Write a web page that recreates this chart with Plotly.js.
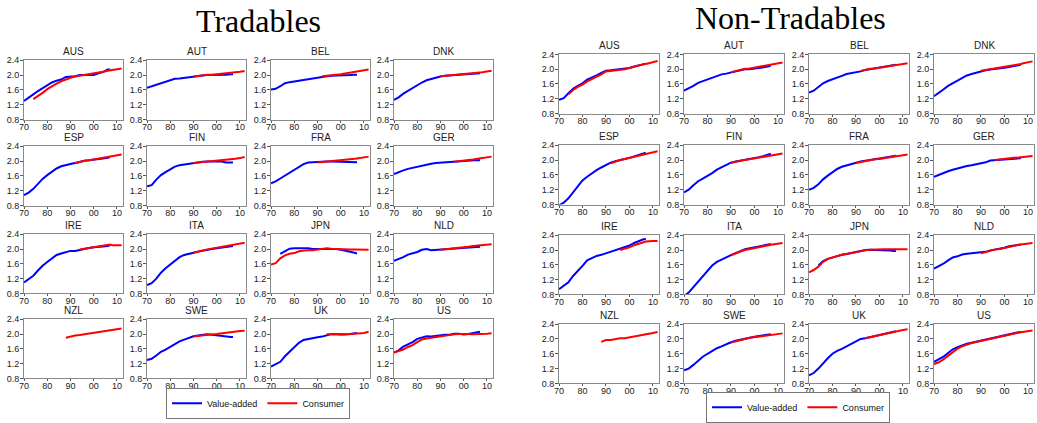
<!DOCTYPE html>
<html>
<head>
<meta charset="utf-8">
<script src="https://cdn.plot.ly/plotly-3.0.1.min.js"></script>
<style>html,body{margin:0;padding:0;background:#fff;}#chart{width:1037px;height:423px;}</style>
</head>
<body>
<div id="chart"></div>
<script>
const countries = ['AUS','AUT','BEL','DNK','ESP','FIN','FRA','GER','IRE','ITA','JPN','NLD','NZL','SWE','UK','US'];
const panelTitles = ['Tradables','Non-Tradables'];
const seriesNames = ['Value-added','Consumer'];
const xTickVals = [1970,1980,1990,2000,2010];
const xTickText = ['70','80','90','00','10'];
const yTickVals = [0.8,1.2,1.6,2.0,2.4];
const yTickText = ['0.8','1.2','1.6','2.0','2.4'];
// value-added years (series end 2007); consumer years (series end 2012, arrays are aligned to the tail)
const yearsVA = [1970,1972,1974,1976,1978,1980,1982,1984,1986,1988,1990,1992,1994,1996,1998,2000,2002,2004,2006,2007];
const yearsCons = [1970,1972,1974,1976,1978,1980,1982,1984,1986,1988,1990,1992,1994,1996,1998,2000,2002,2004,2006,2007,2008,2010,2012];

const tradVA = [
 [1.30,1.38,1.48,1.57,1.65,1.72,1.80,1.85,1.88,1.95,1.95,1.97,2.00,2.00,2.02,2.00,2.05,2.08,2.15,2.15],
 [1.66,1.70,1.74,1.78,1.83,1.87,1.90,1.91,1.93,1.94,1.96,1.98,1.99,2.00,2.00,1.99,2.01,2.01,2.02,2.02],
 [1.61,1.63,1.70,1.78,1.81,1.83,1.85,1.89,1.91,1.93,1.94,1.96,1.97,1.98,1.98,1.98,1.98,2.00,2.01,2.01],
 [1.33,1.40,1.50,1.58,1.65,1.72,1.80,1.86,1.90,1.93,1.96,1.98,1.99,2.00,2.01,2.02,2.03,2.03,2.05,2.05],
 [1.08,1.15,1.25,1.40,1.52,1.62,1.72,1.80,1.86,1.90,1.92,1.95,1.99,2.01,2.02,2.03,2.05,2.07,2.09,2.10],
 [1.32,1.35,1.50,1.62,1.70,1.77,1.85,1.89,1.91,1.94,1.96,1.96,1.98,1.99,1.99,2.00,1.99,1.96,1.95,1.96],
 [1.40,1.45,1.53,1.61,1.68,1.76,1.85,1.92,1.96,1.97,1.99,1.99,1.99,1.99,1.99,1.98,1.98,1.97,1.97,1.97],
 [1.65,1.71,1.75,1.79,1.82,1.85,1.89,1.91,1.93,1.95,1.96,1.97,1.98,1.99,2.00,2.01,2.02,2.03,2.03,2.02],
 [1.10,1.18,1.28,1.42,1.55,1.65,1.75,1.84,1.88,1.92,1.95,1.95,1.98,2.00,2.03,2.05,2.07,2.07,2.08,2.10],
 [1.03,1.08,1.20,1.36,1.48,1.58,1.70,1.78,1.84,1.88,1.90,1.93,1.96,1.98,2.00,2.02,2.04,2.06,2.08,2.08],
 [null,null,1.87,1.95,2.01,2.02,2.02,2.04,2.02,2.00,2.00,2.02,2.02,2.00,2.00,1.98,1.96,1.93,1.90,1.88],
 [1.68,1.72,1.78,1.85,1.88,1.92,1.98,2.00,1.97,1.98,1.98,1.98,1.99,2.00,2.01,2.02,2.04,2.05,2.06,2.06],
 [],
 [1.30,1.33,1.42,1.52,1.58,1.66,1.74,1.80,1.85,1.90,1.94,1.96,1.98,1.99,1.98,1.96,1.95,1.93,1.92,1.92],
 [1.12,1.18,1.25,1.40,1.52,1.63,1.76,1.84,1.87,1.88,1.91,1.93,1.97,2.00,1.99,1.98,1.99,2.00,2.02,2.03],
 [1.50,1.56,1.66,1.72,1.78,1.87,1.91,1.94,1.93,1.95,1.97,1.98,1.98,2.01,2.01,1.99,2.00,2.02,2.05,2.06]
];
const tradCons = [
 [1.35,1.43,1.52,1.62,1.70,1.77,1.83,1.89,1.93,1.96,1.98,2.00,2.01,2.03,2.06,2.09,2.12,2.13,2.14,2.16,2.18],
 [1.96,1.98,2.00,2.01,2.01,2.02,2.03,2.04,2.05,2.06,2.07,2.09,2.11],
 [1.97,1.99,2.00,2.01,2.02,2.04,2.05,2.07,2.08,2.10,2.12,2.15],
 [1.97,1.98,1.99,2.00,2.01,2.02,2.03,2.04,2.06,2.07,2.08,2.10,2.12],
 [1.94,1.98,2.01,2.02,2.04,2.06,2.08,2.11,2.12,2.13,2.15,2.18],
 [1.95,1.96,1.99,2.00,2.01,2.02,2.03,2.03,2.04,2.05,2.06,2.08,2.11],
 [1.96,1.97,1.98,1.99,2.00,2.01,2.02,2.04,2.06,2.07,2.08,2.10,2.12],
 [1.98,1.99,2.00,2.02,2.04,2.06,2.07,2.08,2.10,2.12],
 [1.99,2.01,2.03,2.05,2.07,2.09,2.10,2.12,2.10,2.09,2.10],
 [1.90,1.94,1.96,1.99,2.01,2.03,2.05,2.07,2.09,2.10,2.11,2.13,2.17],
 [1.58,1.62,1.75,1.83,1.87,1.89,1.94,1.96,1.97,1.97,1.99,2.01,2.02,2.01,2.00,2.00,1.99,1.99,1.99,1.99,1.99,1.98,1.98],
 [1.98,1.99,2.00,2.01,2.02,2.04,2.06,2.08,2.09,2.10,2.11,2.12,2.13],
 [1.90,1.94,1.96,1.97,1.99,2.00,2.01,2.03,2.05,2.07,2.08,2.10,2.13,2.15],
 [1.93,1.95,1.97,1.99,1.99,2.00,2.02,2.03,2.04,2.05,2.06,2.08,2.09],
 [1.99,2.00,2.00,1.98,1.99,1.99,2.00,2.00,2.01,2.03,2.06],
 [1.50,1.53,1.58,1.65,1.70,1.78,1.85,1.88,1.90,1.92,1.95,1.97,1.98,1.99,2.00,2.01,2.00,1.99,1.99,1.99,2.00,2.01,2.02]
];
const nonVA = [
 [1.17,1.22,1.35,1.47,1.55,1.62,1.72,1.77,1.83,1.90,1.96,1.97,1.98,2.00,2.01,2.03,2.07,2.10,2.13,2.15],
 [1.42,1.48,1.55,1.63,1.68,1.73,1.78,1.82,1.86,1.88,1.91,1.95,1.98,2.00,2.00,2.01,2.03,2.05,2.08,2.10],
 [1.37,1.42,1.52,1.62,1.68,1.72,1.76,1.82,1.87,1.89,1.91,1.94,1.98,2.00,2.02,2.04,2.06,2.08,2.11,2.12],
 [1.27,1.35,1.45,1.55,1.62,1.68,1.77,1.83,1.87,1.91,1.95,1.97,1.99,2.00,2.02,2.04,2.06,2.08,2.11,2.12],
 [0.78,0.85,0.97,1.12,1.30,1.45,1.55,1.65,1.73,1.80,1.87,1.93,1.97,2.01,2.03,2.06,2.10,2.14,2.18,2.20],
 [1.13,1.20,1.32,1.43,1.50,1.57,1.65,1.74,1.80,1.86,1.93,1.96,1.98,2.00,2.02,2.05,2.08,2.11,2.15,2.17],
 [1.20,1.25,1.35,1.48,1.58,1.67,1.76,1.82,1.86,1.90,1.93,1.96,1.98,2.01,2.02,2.04,2.06,2.08,2.11,2.12],
 [1.55,1.60,1.67,1.70,1.74,1.78,1.82,1.84,1.86,1.88,1.90,1.94,1.99,2.00,2.00,2.01,2.01,2.02,2.03,2.05],
 [0.94,1.04,1.13,1.30,1.43,1.57,1.72,1.78,1.84,1.87,1.91,1.95,1.98,2.02,2.06,2.12,2.19,2.25,2.29,2.30],
 [0.76,0.85,1.00,1.14,1.28,1.44,1.58,1.68,1.75,1.80,1.86,1.92,1.97,2.02,2.05,2.07,2.10,2.13,2.15,2.16],
 [null,null,1.58,1.70,1.76,1.80,1.84,1.87,1.89,1.92,1.95,1.97,2.00,2.01,2.01,2.01,2.00,1.99,1.97,1.97],
 [1.50,1.56,1.63,1.72,1.80,1.83,1.88,1.90,1.91,1.92,1.93,1.95,1.99,2.01,2.03,2.06,2.10,2.12,2.14,2.15],
 [],
 [1.15,1.20,1.30,1.42,1.52,1.60,1.68,1.75,1.80,1.86,1.91,1.95,1.98,2.02,2.04,2.06,2.08,2.10,2.12,2.13],
 [1.02,1.08,1.20,1.35,1.48,1.60,1.68,1.73,1.80,1.87,1.95,2.00,2.02,2.05,2.08,2.12,2.15,2.18,2.20,2.21],
 [1.38,1.45,1.52,1.62,1.72,1.78,1.83,1.87,1.90,1.93,1.96,1.99,2.01,2.04,2.06,2.09,2.12,2.15,2.18,2.19]
];
const nonCons = [
 [1.32,1.44,1.52,1.58,1.67,1.73,1.78,1.86,1.94,1.95,1.96,1.99,2.00,2.03,2.07,2.10,2.13,2.14,2.16,2.19,2.22],
 [1.92,1.95,1.99,2.01,2.02,2.04,2.06,2.08,2.11,2.12,2.14,2.16,2.18],
 [1.95,1.99,2.01,2.02,2.04,2.06,2.08,2.10,2.11,2.12,2.14,2.16],
 [1.96,1.98,2.00,2.01,2.03,2.05,2.07,2.10,2.13,2.14,2.16,2.19,2.21],
 [1.91,1.96,2.00,2.03,2.06,2.09,2.13,2.16,2.18,2.19,2.21,2.24],
 [1.93,1.96,1.98,2.00,2.02,2.04,2.06,2.09,2.11,2.12,2.14,2.16,2.18],
 [1.92,1.95,1.97,2.00,2.02,2.03,2.05,2.08,2.10,2.11,2.12,2.13,2.15],
 [2.00,2.02,2.03,2.05,2.06,2.07,2.08,2.09,2.10,2.11],
 [2.00,2.03,2.07,2.13,2.18,2.21,2.23,2.24,2.24,2.24],
 [1.86,1.92,1.96,2.00,2.03,2.05,2.08,2.11,2.13,2.14,2.15,2.17,2.19],
 [1.40,1.46,1.55,1.68,1.76,1.80,1.84,1.87,1.89,1.92,1.95,1.97,1.99,2.01,2.02,2.02,2.02,2.02,2.02,2.02,2.02,2.02,2.02],
 [1.91,1.95,1.99,2.01,2.03,2.06,2.10,2.12,2.14,2.15,2.16,2.17,2.19],
 [1.92,1.97,1.97,2.00,2.02,2.02,2.04,2.06,2.08,2.11,2.12,2.14,2.16,2.19],
 [1.90,1.94,1.97,2.00,2.03,2.05,2.07,2.09,2.11,2.12,2.13,2.14,2.15],
 [2.02,2.05,2.08,2.11,2.14,2.17,2.20,2.21,2.22,2.24,2.26],
 [1.32,1.37,1.45,1.55,1.65,1.74,1.80,1.85,1.89,1.92,1.95,1.98,2.01,2.04,2.06,2.09,2.12,2.15,2.17,2.18,2.19,2.21,2.23]
];

const W = 1037, H = 423;
const BLUE = '#0000ff', RED = '#ff0000';
const panels = [
  {va: tradVA, cons: tradCons, lefts: [24,147,271,394], w: 99, tops: [61,148,237,323], h: 60,
   titleX: 258, titleY: 21, legendX: 258, legendY: 408, legend: 'legend'},
  {va: nonVA, cons: nonCons, lefts: [559,684,809,934], w: 100, tops: [55,147,238,328], h: 60,
   titleX: 790, titleY: 18, legendX: 798, legendY: 412, legend: 'legend2'}
];

const traces = [];
const layout = {
  width: W, height: H, autosize: false,
  margin: {l:0, r:0, t:0, b:0},
  paper_bgcolor: '#fff', plot_bgcolor: '#fff',
  font: {family: 'Liberation Sans, Arial, sans-serif', size: 9, color: '#222'},
  annotations: [],
  showlegend: true
};

const fontTick = {family: 'Liberation Sans, Arial, sans-serif', size: 9, color: '#222'};

panels.forEach((p, pi) => {
  countries.forEach((c, ci) => {
    const idx = pi * 16 + ci + 1;
    const row = Math.floor(ci / 4), col = ci % 4;
    const x0 = p.lefts[col], x1 = x0 + p.w;
    const y0 = p.tops[row], y1 = y0 + p.h;
    const xa = 'xaxis' + (idx === 1 ? '' : idx), ya = 'yaxis' + (idx === 1 ? '' : idx);
    const xr = 'x' + (idx === 1 ? '' : idx), yr = 'y' + (idx === 1 ? '' : idx);
    layout[xa] = {
      domain: [x0 / W, x1 / W], anchor: yr, range: [1970, 2012.6],
      tickvals: xTickVals, ticktext: xTickText, ticks: 'outside', ticklen: 2, tickcolor: '#555',
      ticklabelstandoff: -3,
      showline: true, linecolor: '#8a8a8a', linewidth: 1, mirror: true,
      showgrid: false, zeroline: false, tickfont: fontTick, fixedrange: true
    };
    layout[ya] = {
      domain: [1 - y1 / H, 1 - y0 / H], anchor: xr, range: [0.8, 2.4],
      tickvals: yTickVals, ticktext: yTickText, ticks: 'outside', ticklen: 3, tickcolor: '#555',
      ticklabelstandoff: -1,
      showline: true, linecolor: '#8a8a8a', linewidth: 1, mirror: true,
      showgrid: false, zeroline: false, tickfont: fontTick, fixedrange: true
    };
    layout.annotations.push({
      text: c, xref: 'paper', yref: 'paper', x: (x0 + x1) / 2 / W, y: 1 - (y0 - 9) / H,
      xanchor: 'center', yanchor: 'middle', showarrow: false,
      font: {family: 'Liberation Sans, Arial, sans-serif', size: 10, color: '#222'}
    });
    const va = p.va[ci];
    const cons = p.cons[ci];
    const first = ci === 0;
    traces.push({
      type: 'scatter', mode: 'lines', name: seriesNames[0],
      x: yearsVA.slice(0, va.length), y: va, xaxis: xr, yaxis: yr,
      line: {color: BLUE, width: 2}, showlegend: first, legend: p.legend, hoverinfo: 'skip'
    });
    traces.push({
      type: 'scatter', mode: 'lines', name: seriesNames[1],
      x: yearsCons.slice(yearsCons.length - cons.length), y: cons, xaxis: xr, yaxis: yr,
      line: {color: RED, width: 2}, showlegend: first, legend: p.legend, hoverinfo: 'skip'
    });
  });
  layout.annotations.push({
    text: panelTitles[pi], xref: 'paper', yref: 'paper', x: p.titleX / W, y: 1 - p.titleY / H,
    xanchor: 'center', yanchor: 'middle', showarrow: false,
    font: {family: 'Liberation Serif, Times New Roman, serif', size: 32, color: '#000'}
  });
  layout[p.legend] = {
    orientation: 'h', x: p.legendX / W, y: 1 - p.legendY / H, xanchor: 'center', yanchor: 'middle',
    bordercolor: '#777', borderwidth: 1, bgcolor: '#fff', itemwidth: 30,
    font: {family: 'Liberation Sans, Arial, sans-serif', size: 9, color: '#111'},
    tracegroupgap: 0
  };
});

Plotly.newPlot('chart', traces, layout, {staticPlot: true, displayModeBar: false});
</script>
</body>
</html>
